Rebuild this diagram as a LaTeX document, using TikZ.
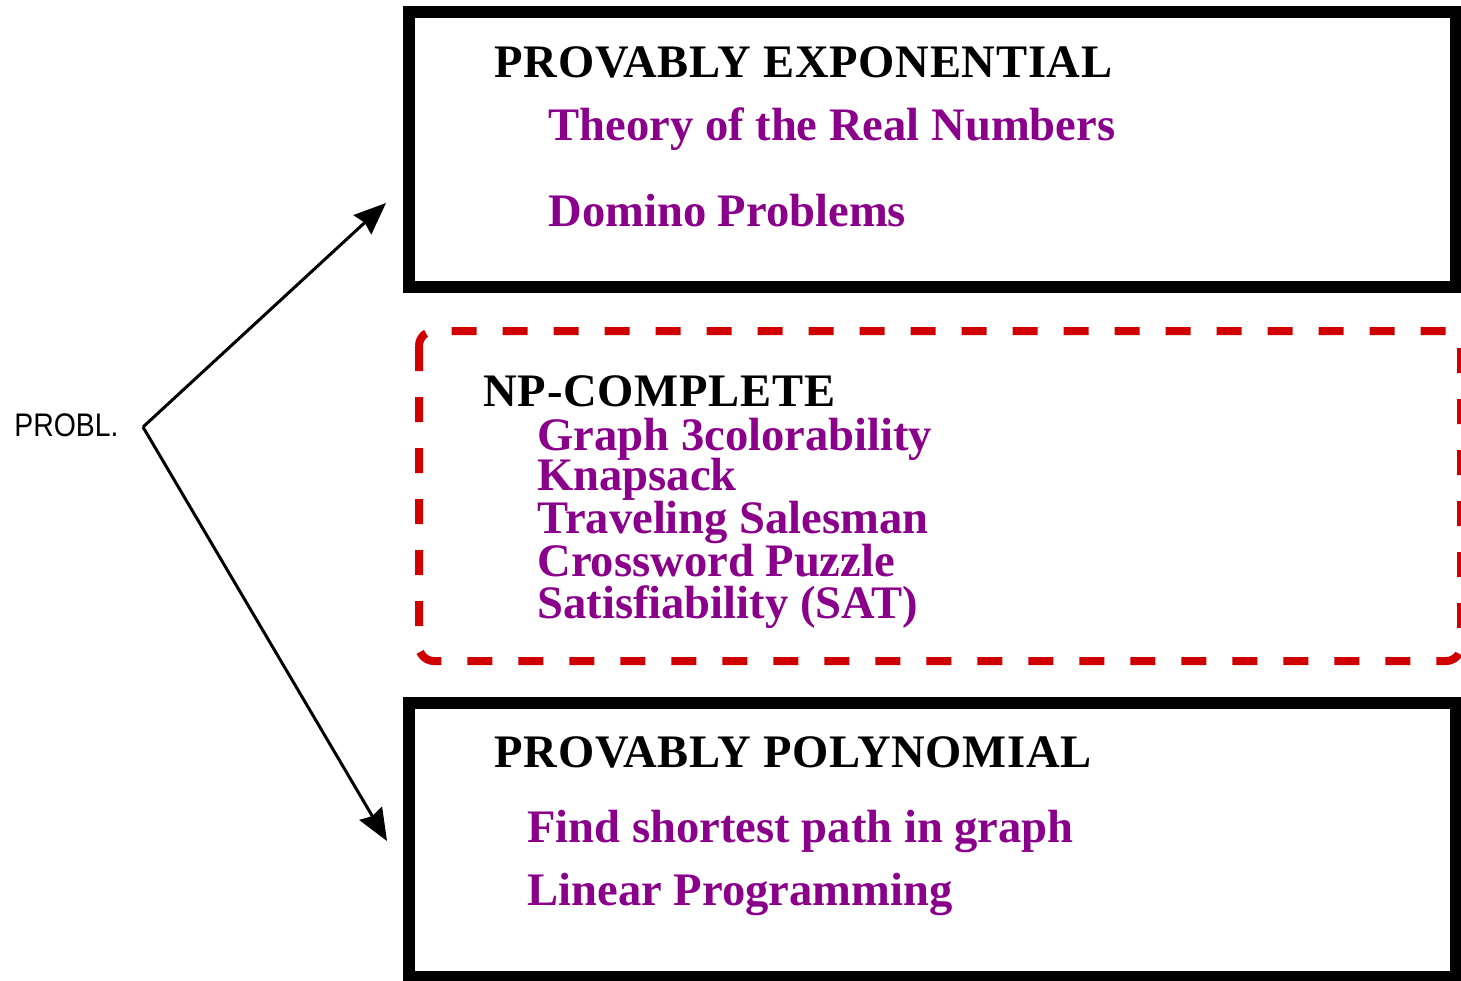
\documentclass[tikz,border=0pt]{standalone}
\usepackage{fontspec}
\setmainfont{Liberation Serif}
\newfontfamily\headfont[LetterSpace=1.6]{Liberation Serif}
\newfontfamily\labelsans{Liberation Sans}
\usetikzlibrary{arrows.meta}
\definecolor{itemc}{RGB}{138,0,138}
\definecolor{npred}{RGB}{208,0,0}
\begin{document}
\begin{tikzpicture}[x=0.5pt,y=-0.5pt,
  classbox/.style={draw=black,line width=6pt},
  npbox/.style={draw=npred,line width=4pt,dash pattern=on 12.5pt off 13pt,rounded corners=7.5pt},
  heading/.style={anchor=base west,inner sep=0pt,font=\headfont\fontsize{23.3pt}{26pt}\selectfont\bfseries,text=black},
  item/.style={anchor=base west,inner sep=0pt,font=\fontsize{23.3pt}{26pt}\selectfont\bfseries,text=itemc},
  branch/.style={draw=black,line width=1.5pt,-{Stealth[length=16pt,width=13pt,inset=1.5pt]}}]
\useasboundingbox (0,0) rectangle (1461,980);
\begin{scope}
\clip (0,0) rectangle (1461,980);
% the three classes
\draw[classbox] (409,11.5) rectangle (1456,287);
\draw[npbox] (419,331) rectangle (1461,661);
\draw[classbox] (409,703) rectangle (1456,977);
\end{scope}

% root label and the two branches
\node[anchor=base west,inner sep=0pt,yscale=1.15,font=\labelsans\fontsize{14.2pt}{16pt}\selectfont] (probl) at (14,436) {PROBL.};
\coordinate (fork) at (143,427);
\coordinate (upper) at (386,203);
\coordinate (lower) at (387,841);
\draw[branch] (fork) -- (upper);
\draw[branch] (fork) -- (lower);

% provably exponential
\node[heading] (hexp) at (494,77) {PROVABLY EXPONENTIAL};
\node[item] (real) at (548,140) {Theory of the Real Numbers};
\node[item] (domino) at (548,226) {Domino Problems};

% NP-complete
\node[heading] (hnp) at (483,406) {NP-COMPLETE};
\node[item] (graph) at (537,450) {Graph 3colorability};
\node[item] (knap) at (537,490) {Knapsack};
\node[item] (tsp) at (537,533) {Traveling Salesman};
\node[item] (cross) at (537,576) {Crossword Puzzle};
\node[item] (sat) at (537,618) {Satisfiability (SAT)};

% provably polynomial
\node[heading] (hpoly) at (494,767) {PROVABLY POLYNOMIAL};
\node[item] (path) at (527,842) {Find shortest path in graph};
\node[item] (lp) at (527,905) {Linear Programming};
\end{tikzpicture}
\end{document}
